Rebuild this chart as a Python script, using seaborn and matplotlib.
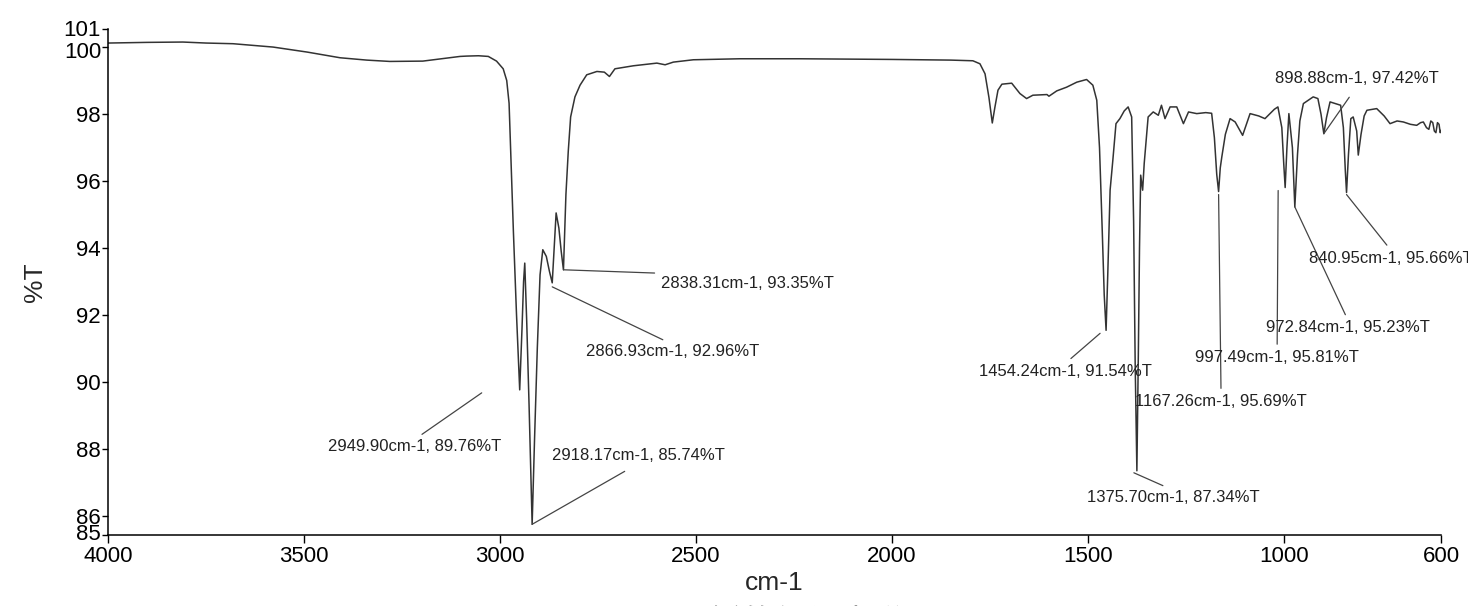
import numpy as np
import pandas as pd
import matplotlib
matplotlib.use('Agg')
import matplotlib.pyplot as plt
import matplotlib.transforms as mtransforms
import seaborn as sns

# spectrum (cm-1, %T)
wavenumber = [4000, 3900, 3809, 3750, 3681, 3579, 3492, 3408, 3340, 3281, 3197, 3150, 3102,
              3085, 3055, 3030, 3009, 2992, 2983, 2977, 2973, 2966, 2958, 2949.90, 2944,
              2940, 2937, 2932, 2926, 2918.17, 2912, 2905, 2898, 2891, 2882, 2874, 2866.93,
              2862, 2857, 2850, 2844, 2838.31, 2832, 2826, 2820, 2809, 2796, 2779, 2753, 2734,
              2721, 2707, 2660, 2600, 2579, 2558, 2507, 2388, 2235, 2100, 2000, 1850, 1794,
              1776, 1763, 1753, 1744.5, 1738, 1730, 1720, 1695, 1674, 1657, 1641, 1605, 1600,
              1580, 1555, 1529, 1504, 1488, 1478, 1471, 1464, 1459, 1454.24, 1450, 1444, 1437,
              1429, 1419, 1408, 1398, 1389, 1384, 1380, 1375.70, 1372, 1369, 1366, 1361, 1357,
              1347, 1334, 1321, 1313, 1304, 1291, 1274, 1257, 1244, 1223, 1200, 1185, 1178,
              1172, 1167.26, 1163, 1159, 1150, 1138, 1125, 1106, 1087, 1065, 1049, 1025, 1016,
              1006, 1001, 997.49, 993, 988, 979, 972.84, 966, 960, 951, 926, 914, 906, 898.88,
              892, 883, 856, 849, 844, 840.95, 836, 830, 824, 815, 811, 804, 796, 789, 764, 745,
              730, 712, 696, 678, 662, 652, 645, 637, 631, 626, 621, 617, 613, 609, 605, 602, 600]
transmittance = [100.13, 100.15, 100.16, 100.13, 100.11, 100.01, 99.86, 99.69, 99.62, 99.58,
                 99.59, 99.66, 99.73, 99.74, 99.75, 99.73, 99.59, 99.36, 99.01, 98.33, 96.93,
                 94.5, 92.0, 89.76, 91.6, 93.0, 93.55, 91.8, 89.3, 85.74, 88.3, 91.0, 93.2, 93.95,
                 93.75, 93.3, 92.96, 94.0, 95.05, 94.6, 93.9, 93.35, 95.6, 96.9, 97.92, 98.52,
                 98.87, 99.18, 99.28, 99.26, 99.13, 99.36, 99.45, 99.53, 99.48, 99.56, 99.63,
                 99.66, 99.66, 99.65, 99.64, 99.62, 99.6, 99.51, 99.21, 98.5, 97.74, 98.2, 98.72,
                 98.9, 98.93, 98.62, 98.47, 98.57, 98.59, 98.54, 98.7, 98.81, 98.96, 99.04, 98.87,
                 98.42, 97.0, 94.5, 92.6, 91.54, 93.2, 95.73, 96.63, 97.72, 97.87, 98.1, 98.22,
                 97.92, 94.8, 90.5, 87.34, 90.8, 94.0, 96.18, 95.73, 96.53, 97.92, 98.07, 97.97,
                 98.27, 97.87, 98.22, 98.22, 97.72, 98.07, 98.02, 98.05, 98.03, 97.3, 96.2, 95.69,
                 96.4, 96.73, 97.4, 97.87, 97.77, 97.37, 98.02, 97.95, 97.87, 98.15, 98.22, 97.6,
                 96.5, 95.81, 97.0, 98.02, 97.0, 95.23, 96.8, 97.8, 98.32, 98.52, 98.47, 98.0,
                 97.42, 97.9, 98.37, 98.27, 97.6, 96.3, 95.66, 96.8, 97.87, 97.92, 97.5, 96.78,
                 97.4, 97.95, 98.12, 98.17, 97.95, 97.72, 97.8, 97.77, 97.7, 97.67, 97.75, 97.77,
                 97.6, 97.55, 97.8, 97.75, 97.5, 97.45, 97.75, 97.7, 97.45, 97.52]

# labelled peaks
peak_wn = [2949.90, 2918.17, 2866.93, 2838.31, 1454.24, 1375.70, 1167.26, 997.49, 972.84, 898.88, 840.95]
peak_t = [89.76, 85.74, 92.96, 93.35, 91.54, 87.34, 95.69, 95.81, 95.23, 97.42, 95.66]

# label placement (text centre in data units), which side the leader attaches, leader start offset (px)
label_x = [3217, 2646, 2561, 2370, 1559, 1284, 1161, 1018, 837, 814, 727]
label_y = [88.06, 87.79, 90.90, 92.93, 90.32, 86.54, 89.40, 90.72, 91.61, 99.07, 93.70]
label_side = ['top', 'bottom', 'top', 'top', 'top', 'top', 'top', 'top', 'top', 'bottom', 'top']
anchor_dx = [-38, 0, 0, 0, -6, -3, 0, -7, 0, 0, 0]
anchor_dy = [-3, 0, -4, 0, -3, -2, -3, -3, 0, 0, -2]

xticks = [4000, 3500, 3000, 2500, 2000, 1500, 1000, 600]
y_low, y_high = 85.42, 100.55
yticks = [y_low, 86, 88, 90, 92, 94, 96, 98, 100, y_high]
ytick_labels = ['85', '86', '88', '90', '92', '94', '96', '98', '100', '101']
# small vertical nudges of some y tick labels (px, up positive)
ytick_nudge = [3, 0, 0, 0, 0, 0, 0, 0, -3, 1]

sns.set_style('ticks')
plt.rcParams['font.family'] = ['Liberation Sans', 'DejaVu Sans']

df = pd.DataFrame({'wavenumber': wavenumber, 'transmittance': transmittance})

fig = plt.figure(figsize=(14.68, 6.06), dpi=100)
ax = fig.add_axes([108 / 1468, 1 - 535 / 606, 1333 / 1468, 506 / 606])

sns.lineplot(data=df, x='wavenumber', y='transmittance', ax=ax, sort=False,
             color='#333333', linewidth=1.1)

ax.set_xlim(4000, 600)
ax.set_ylim(y_low, y_high)
ax.set_xticks(xticks)
ax.set_xticklabels([str(t) for t in xticks], fontsize=16)
ax.set_yticks(yticks)
ax.set_yticklabels(ytick_labels, fontsize=16)
ax.tick_params(axis='x', direction='out', length=6, width=1, pad=2, colors='black')
ax.tick_params(axis='y', direction='out', length=4, width=1, pad=1, colors='black')
for lbl, dy in zip(ax.get_yticklabels(), ytick_nudge):
    if dy:
        lbl.set_transform(lbl.get_transform() +
                          mtransforms.ScaledTranslation(0, dy / 100, fig.dpi_scale_trans))
sns.despine(ax=ax)
for s in ['left', 'bottom']:
    ax.spines[s].set_linewidth(1.1)
    ax.spines[s].set_color('black')

ax.set_xlabel('cm-1', fontsize=19, labelpad=3)
ax.set_ylabel('%T', fontsize=19, labelpad=12)

# peak labels with leader lines
for i in range(len(peak_wn)):
    txt = f'{peak_wn[i]:.2f}cm-1, {peak_t[i]:.2f}%T'
    rel = (0.5, 1.0) if label_side[i] == 'top' else (0.5, 0.0)
    shrink = 2 if label_side[i] == 'top' else 7
    trans = mtransforms.offset_copy(ax.transData, fig=fig, x=anchor_dx[i], y=anchor_dy[i], units='dots')
    ax.annotate(txt, xy=(peak_wn[i], peak_t[i]), xycoords=trans,
                xytext=(label_x[i], label_y[i]), textcoords='data',
                ha='center', va='center', fontsize=12, color='#222222',
                annotation_clip=False,
                arrowprops=dict(arrowstyle='-', color='#444444', lw=0.9,
                                shrinkA=shrink, shrinkB=0, relpos=rel))

# caption, cut off at the bottom edge of the image
fig.text(515 / 1468, -0.044, '图', fontsize=23.5, family=['Noto Sans CJK SC'], va='baseline')
fig.text(645 / 1468, -0.044, '聚丙烯的红外光谱图', fontsize=23.5, family=['Noto Sans CJK SC'], va='baseline')

fig.savefig('out.png', dpi=100)
